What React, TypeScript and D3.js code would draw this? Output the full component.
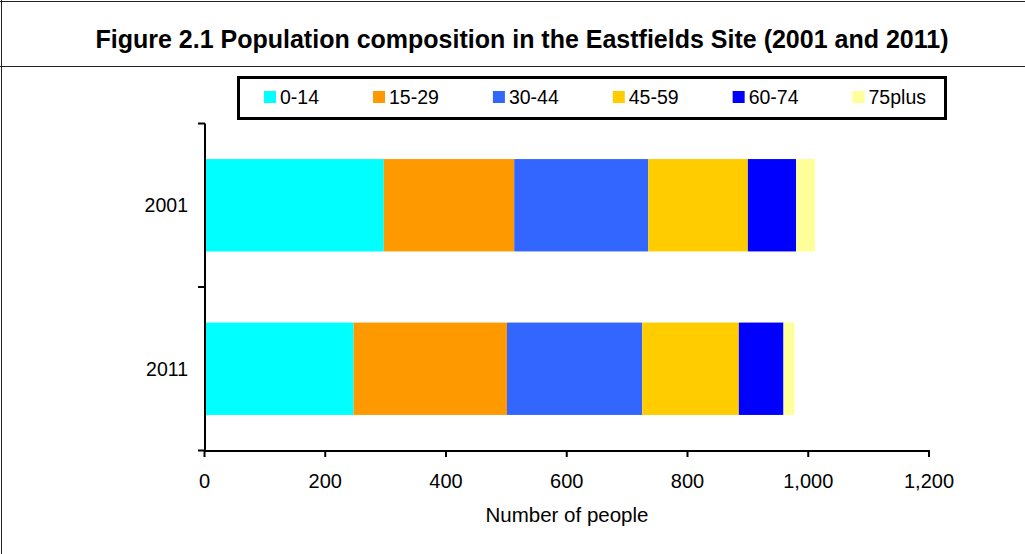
import * as d3 from "d3";
import { useMemo } from "react";

const years = ["2001", "2011"];
const ageGroups = ["0-14", "15-29", "30-44", "45-59", "60-74", "75plus"];
const pop2001 = [297, 216, 222, 165, 80, 31];
const pop2011 = [247, 254, 224, 160, 74, 18];
const groupColors = ["#00FFFF", "#FF9900", "#3366FF", "#FFCC00", "#0000FF", "#FFFF99"];
const xTicks = [0, 200, 400, 600, 800, 1000, 1200];

const W = 1025;
const H = 554;
const FONT = "'Liberation Sans', Arial, sans-serif";

function measure(text: string, font: string) {
  const ctx = document.createElement("canvas").getContext("2d")!;
  ctx.font = font;
  return ctx.measureText(text).width;
}

export default function App() {
  const rows = years.map((y, i) => {
    const vals = i === 0 ? pop2001 : pop2011;
    const r: any = { year: y };
    ageGroups.forEach((g, j) => (r[g] = vals[j]));
    return r;
  });
  const series = d3.stack().keys(ageGroups)(rows);

  const x = d3.scaleLinear().domain([0, 1200]).range([204.5, 929]);
  const slot = d3.scaleBand().domain(years).range([123.5, 450.5]).padding(0);
  const y = d3
    .scaleBand()
    .domain(years)
    .range([123.5, 450.5])
    .paddingInner(0.435)
    .paddingOuter(0.2175);
  const color = d3.scaleOrdinal<string, string>().domain(ageGroups).range(groupColors);

  // legend layout, each item pushed by the width of the previous label
  const legendX = useMemo(() => {
    const out: number[] = [];
    let cx = 264;
    ageGroups.forEach((g) => {
      out.push(cx);
      cx += 16 + measure(g, `19.5px ${FONT}`) + 54;
    });
    return out;
  }, []);

  const fmt = d3.format(",");

  return (
    <svg
      width={W}
      height={H}
      style={{ position: "absolute", left: 0, top: 0, background: "#fff" }}
      fontFamily={FONT}
    >
      {/* frame */}
      <line x1={0} x2={W} y1={1.5} y2={1.5} stroke="#222" />
      <line x1={1.5} x2={1.5} y1={0} y2={H} stroke="#222" />
      <line x1={0} x2={W} y1={66.5} y2={66.5} stroke="#222" />

      <text x={522} y={48} textAnchor="middle" fontWeight="bold" fontSize={25}>
        Figure 2.1 Population composition in the Eastfields Site (2001 and 2011)
      </text>

      {/* legend */}
      <rect x={238.5} y={77.5} width={707} height={41} fill="#fff" stroke="#000" strokeWidth={3} />
      {ageGroups.map((g, i) => (
        <g key={g} transform={`translate(${legendX[i]},0)`}>
          <rect x={0} y={91} width={12} height={12} fill={color(g)} />
          <text x={16} y={104} fontSize={19.5}>
            {g}
          </text>
        </g>
      ))}

      {/* bars */}
      {series.map((s) => (
        <g key={s.key} fill={color(s.key)}>
          {s.map((d) => (
            <rect
              key={d.data.year}
              x={x(d[0])}
              y={y(d.data.year)}
              width={x(d[1]) - x(d[0])}
              height={y.bandwidth()}
            />
          ))}
        </g>
      ))}

      {/* y axis */}
      <line x1={205} x2={205} y1={123.5} y2={451} stroke="#000" strokeWidth={2} />
      {[...years.map((yr) => slot(yr)!), 450.5].map((t, i) => (
        <line key={i} x1={198} x2={205} y1={t} y2={t} stroke="#000" strokeWidth={2} />
      ))}
      {years.map((yr) => (
        <text key={yr} x={188} y={y(yr)! + y.bandwidth() / 2 + 7} textAnchor="end" fontSize={19.5}>
          {yr}
        </text>
      ))}

      {/* x axis */}
      <line x1={204} x2={930} y1={451} y2={451} stroke="#000" strokeWidth={2} />
      {xTicks.map((t) => (
        <g key={t} transform={`translate(${x(t)},0)`}>
          <line y1={450} y2={457} stroke="#000" strokeWidth={2} />
          <text y={488} textAnchor="middle" fontSize={20}>
            {fmt(t)}
          </text>
        </g>
      ))}
      <text x={567} y={522} textAnchor="middle" fontSize={20.5}>
        Number of people
      </text>
    </svg>
  );
}
